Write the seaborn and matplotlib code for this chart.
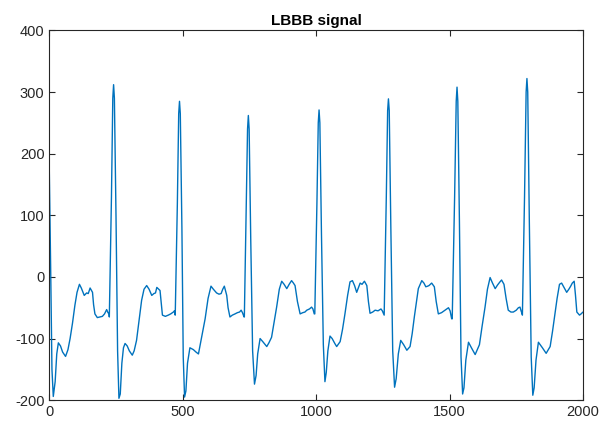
import matplotlib
matplotlib.use("Agg")
import matplotlib.pyplot as plt
import seaborn as sns
import pandas as pd

# Sample index and signal amplitude
sample = [
    0, 5, 10, 15, 22, 28, 34, 42, 50, 61, 70, 78, 87, 96, 104, 113, 120, 131, 140, 146, 153, 158, 162, 166, 171,
    180, 190, 199, 207, 215, 220, 224,
    225, 233, 238, 241, 244, 250, 256, 261, 266, 272, 278, 284, 292, 300, 311, 318, 327, 336, 346, 355, 365, 374,
    384, 392, 398, 403, 410, 415, 420, 424, 435, 446, 455, 465, 469, 472,
    480, 485, 488, 491, 497, 502, 507, 512, 518, 527, 540, 550, 559, 570, 584, 595, 606, 615, 627, 636, 644, 650,
    656, 660, 665, 670, 677, 686, 696, 705, 713, 719, 724, 730,
    731, 738, 743, 746, 749, 755, 762, 769, 775, 781, 790, 800, 815, 823, 833, 842, 852, 862, 871, 880, 890, 899,
    908, 915, 921, 930, 940, 950, 958, 965, 975, 983, 988, 993,
    995, 1003, 1008, 1011, 1014, 1020, 1027, 1033, 1038, 1044, 1052, 1060, 1070, 1077, 1090, 1099, 1108, 1118,
    1127, 1136, 1144, 1152, 1158, 1165, 1172, 1181, 1190, 1196, 1202, 1212, 1221, 1232, 1243, 1248, 1253,
    1255, 1263, 1268, 1271, 1274, 1280, 1287, 1294, 1300, 1308, 1317, 1328, 1340, 1352, 1360, 1368, 1376, 1383,
    1396, 1404, 1411, 1418, 1423, 1433, 1443, 1450, 1458, 1470, 1483, 1489, 1496, 1502, 1508,
    1510, 1519, 1525, 1528, 1531, 1537, 1543, 1549, 1554, 1561, 1571, 1582, 1596, 1604, 1612, 1622, 1633, 1642,
    1652, 1661, 1671, 1680, 1689, 1695, 1700, 1704, 1712, 1720, 1730, 1739, 1750, 1758, 1764, 1768, 1772,
    1773, 1781, 1787, 1790, 1793, 1799, 1806, 1812, 1817, 1824, 1833, 1848, 1862, 1877, 1886, 1895, 1903, 1912,
    1920, 1930, 1939, 1947, 1954, 1960, 1967, 1972, 1977, 1987, 1993, 2000,
]
amplitude = [
    174, 20, -150, -194, -170, -125, -107, -112, -122, -129, -118, -100, -75, -46, -25, -12, -18, -30, -26, -27, -18, -22, -25, -45, -60,
    -66, -65, -64, -60, -53, -58, -60,
    -65, 130, 290, 312, 290, 100, -120, -197, -190, -140, -115, -108, -112, -120, -127, -120, -103, -72, -38, -20, -14, -20,
    -30, -27, -26, -17, -20, -22, -45, -62, -64, -62, -60, -57, -55, -62,
    120, 265, 285, 265, 80, -130, -195, -185, -140, -115, -118, -122, -125, -100, -68, -35, -15, -20, -26, -28, -27, -20,
    -15, -22, -30, -50, -65, -62, -60, -58, -57, -54, -58, -65,
    -65, 110, 240, 262, 240, 60, -120, -174, -160, -125, -100, -105, -113, -107, -98, -75, -49, -20, -7, -12, -19, -12,
    -6, -10, -14, -40, -60, -58, -57, -54, -52, -49, -52, -60,
    -60, 120, 250, 271, 250, 70, -110, -170, -155, -120, -96, -100, -108, -113, -105, -85, -60, -30,
    -8, -6, -14, -25, -18, -10, -12, -7, -14, -40, -59, -57, -54, -55, -52, -55, -60,
    -62, 130, 270, 289, 270, 80, -120, -179, -165, -125, -103, -110, -119, -113, -92, -65, -40, -19,
    -6, -10, -16, -15, -14, -10, -16, -40, -60, -58, -54, -52, -50, -55, -68,
    -68, 130, 285, 308, 285, 90, -130, -190, -180, -135, -106, -115, -126, -118, -110, -80, -49, -20,
    -1, -10, -19, -13, -8, -5, -9, -12, -35, -54, -57, -57, -54, -50, -49, -55, -60,
    -62, 130, 300, 322, 300, 90, -130, -192, -180, -135, -106, -115, -124, -113, -88, -60, -35, -12,
    -10, -18, -25, -20, -15, -10, -7, -30, -57, -62, -60, -57,
]
x_ticks = [0, 500, 1000, 1500, 2000]
y_ticks = [-200, -100, 0, 100, 200, 300, 400]
title = "LBBB signal"

df = pd.DataFrame({"sample": sample, "amplitude": amplitude})

sns.set_style("white")
plt.rcParams["font.family"] = ["Liberation Sans", "DejaVu Sans"]
plt.rcParams["axes.unicode_minus"] = False

fig = plt.figure(figsize=(6.01, 4.23), dpi=100)
ax = fig.add_axes([0.082, 0.054, 0.888, 0.874])
sns.lineplot(data=df, x="sample", y="amplitude", ax=ax, color="#0072BD",
             linewidth=1.0, estimator=None, sort=False)

ax.set_xlim(0, 2000)
ax.set_ylim(-200, 400)
ax.set_xticks(x_ticks)
ax.set_yticks(y_ticks)
ax.set_xlabel("")
ax.set_ylabel("")
ax.set_title(title, fontsize=11, fontweight="bold", color="black", pad=4)

edge = "#262626"
for s in ax.spines.values():
    s.set_visible(True)
    s.set_color(edge)
    s.set_linewidth(0.8)
ax.tick_params(direction="in", length=4, width=0.8, color=edge, labelcolor=edge,
               labelsize=10.5, top=True, right=True, bottom=True, left=True)

fig.savefig("out.png", dpi=100)
